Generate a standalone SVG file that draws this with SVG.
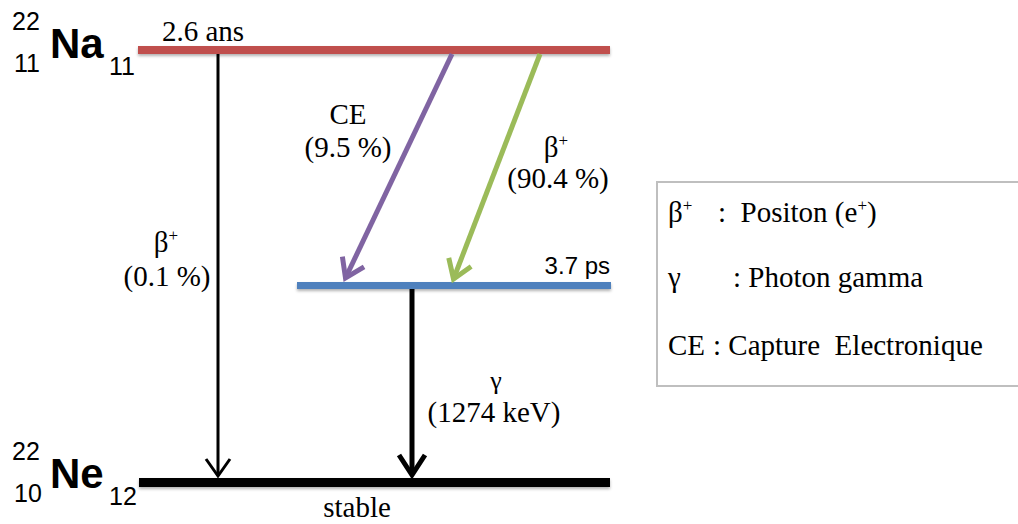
<svg xmlns="http://www.w3.org/2000/svg" width="1018" height="524" viewBox="0 0 1018 524">
  <style>
    .sans { font-family: "Liberation Sans", Arial, sans-serif; fill: #000; }
    .serif { font-family: "Liberation Serif", "Times New Roman", serif; fill: #000; }
    .lbl { font-size: 29px; }
    .leg { font-size: 29px; }
    .sup { font-size: 25px; }
    .sym { font-size: 42px; font-weight: bold; }
    .conn { fill: none; stroke-linecap: butt; }
  </style>
  <defs>
    <filter id="shadow" x="-5%" y="-100%" width="110%" height="400%">
      <feDropShadow dx="0" dy="2" stdDeviation="1.5" flood-color="#000" flood-opacity="0.3"/>
    </filter>
    <marker id="ah-black-thin" markerUnits="userSpaceOnUse" viewBox="-30 -20 40 40" markerWidth="40" markerHeight="40" refX="0" refY="0" orient="auto">
      <path d="M-17,-12 L0,0 L-17,12" fill="none" stroke="#000" stroke-width="3"/>
    </marker>
    <marker id="ah-black" markerUnits="userSpaceOnUse" viewBox="-30 -20 40 40" markerWidth="40" markerHeight="40" refX="0" refY="0" orient="auto">
      <path d="M-20,-13 L0,0 L-20,13" fill="none" stroke="#000" stroke-width="5"/>
    </marker>
    <marker id="ah-purple" markerUnits="userSpaceOnUse" viewBox="-30 -20 40 40" markerWidth="40" markerHeight="40" refX="0" refY="0" orient="auto">
      <path d="M-18,-12 L0,0 L-18,12" fill="none" stroke="#8064a2" stroke-width="5"/>
    </marker>
    <marker id="ah-green" markerUnits="userSpaceOnUse" viewBox="-30 -20 40 40" markerWidth="40" markerHeight="40" refX="0" refY="0" orient="auto">
      <path d="M-18,-12 L0,0 L-18,12" fill="none" stroke="#9bbb59" stroke-width="5"/>
    </marker>
  </defs>

  <rect width="1018" height="524" fill="#fff"/>

  <!-- Na-22 level -->
  <g id="na22">
    <rect x="138" y="46" width="472" height="8" fill="#c0504d" filter="url(#shadow)"/>
    <text class="sans sup" x="12" y="30">22</text>
    <text class="sans sup" x="14" y="72">11</text>
    <text class="sans sym" x="50" y="58">Na</text>
    <text class="sans sup" x="109" y="75">11</text>
    <text class="serif lbl" x="162" y="41">2.6 ans</text>
  </g>

  <!-- Excited Ne-22 level -->
  <g id="ne22-excited">
    <rect x="297" y="282" width="314" height="7" fill="#4f81bd" filter="url(#shadow)"/>
    <text class="sans" font-size="24" x="610" y="274" text-anchor="end">3.7 ps</text>
  </g>

  <!-- Ne-22 ground level -->
  <g id="ne22">
    <rect x="139" y="478" width="471" height="9" fill="#000" filter="url(#shadow)"/>
    <text class="sans sup" x="12" y="460">22</text>
    <text class="sans sup" x="14" y="502">10</text>
    <text class="sans sym" x="50" y="488">Ne</text>
    <text class="sans sup" x="109" y="505">12</text>
    <text class="serif lbl" x="357" y="517" text-anchor="middle">stable</text>
  </g>

  <!-- Connectors -->
  <g id="connectors">
    <line class="conn" x1="218" y1="54" x2="218" y2="476" stroke="#000" stroke-width="3" marker-end="url(#ah-black-thin)"/>
    <line class="conn" x1="452" y1="54" x2="345.5" y2="278" stroke="#8064a2" stroke-width="5" marker-end="url(#ah-purple)"/>
    <line class="conn" x1="540" y1="54" x2="453.5" y2="279" stroke="#9bbb59" stroke-width="5" marker-end="url(#ah-green)"/>
    <line class="conn" x1="412" y1="289" x2="412" y2="475" stroke="#000" stroke-width="5" marker-end="url(#ah-black)"/>
  </g>

  <!-- Connector labels -->
  <g id="label-beta-0">
    <text class="serif lbl" x="166" y="252" text-anchor="middle">β<tspan font-size="17" dy="-11">+</tspan></text>
    <text class="serif lbl" x="167" y="286" text-anchor="middle">(0.1 %)</text>
  </g>
  <g id="label-ce">
    <text class="serif lbl" x="348" y="124" text-anchor="middle">CE</text>
    <text class="serif lbl" x="348" y="157" text-anchor="middle">(9.5 %)</text>
  </g>
  <g id="label-beta-90">
    <text class="serif lbl" x="556" y="157" text-anchor="middle">β<tspan font-size="17" dy="-11">+</tspan></text>
    <text class="serif lbl" x="558" y="188" text-anchor="middle">(90.4 %)</text>
  </g>
  <g id="label-gamma">
    <text class="serif" font-size="26" x="496" y="389" text-anchor="middle">γ</text>
    <text class="serif lbl" x="494" y="422" text-anchor="middle">(1274 keV)</text>
  </g>

  <!-- Legend -->
  <g id="legend">
    <rect x="657" y="182" width="370" height="204" fill="#fff" stroke="#bfbfbf" stroke-width="2"/>
    <text class="serif leg" x="668" y="222">β<tspan font-size="17" dy="-11">+</tspan></text>
    <text class="serif leg" x="718" y="222" xml:space="preserve">:  Positon (e<tspan font-size="17" dy="-11">+</tspan><tspan dy="11">)</tspan></text>
    <text class="serif leg" x="668" y="287">γ</text>
    <text class="serif leg" x="733" y="287">: Photon gamma</text>
    <text class="serif leg" x="668" y="355">CE</text>
    <text class="serif leg" x="713" y="355" xml:space="preserve">: Capture  Electronique</text>
  </g>
</svg>
